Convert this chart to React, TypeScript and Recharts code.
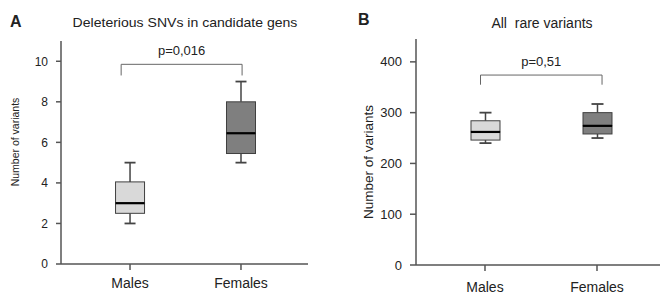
import React from 'react';
import {
  ComposedChart,
  Bar,
  XAxis,
  YAxis,
  ReferenceLine,
} from 'recharts';

const groups = ['Males', 'Females'];

// Panel A: deleterious SNVs in candidate genes
const snvMin = [2, 5];
const snvQ1 = [2.5, 5.45];
const snvMedian = [3, 6.45];
const snvQ3 = [4.05, 8.0];
const snvMax = [5, 9];
const snvTicks = [0, 2, 4, 6, 8, 10];

// Panel B: all rare variants
const rareMin = [240, 250];
const rareQ1 = [246, 258];
const rareMedian = [262, 274];
const rareQ3 = [284, 300];
const rareMax = [300, 317];
const rareTicks = [0, 100, 200, 300, 400];

const FONT = '"Liberation Sans", Arial, sans-serif';
const boxFills = ['#d9d9d9', '#7f7f7f'];

const buildRows = (min: number[], q1: number[], med: number[], q3: number[], max: number[]) =>
  groups.map((g, i) => ({
    x: i,
    name: g,
    base: min[i],
    lowW: q1[i] - min[i],
    lowBox: med[i] - q1[i],
    upBox: q3[i] - med[i],
    upW: max[i] - q3[i],
  }));

const whisker = (cap: number, atTop: boolean) => (props: any) => {
  const { x, y, width, height } = props;
  const cx = x + width / 2;
  const cy = atTop ? y : y + height;
  return (
    <g>
      <line x1={cx} x2={cx} y1={y} y2={y + height} stroke="#444" strokeWidth={1.5} />
      <line x1={cx - cap / 2} x2={cx + cap / 2} y1={cy} y2={cy} stroke="#444" strokeWidth={1.8} />
    </g>
  );
};

const boxPart = (withMedian: boolean) => (props: any) => {
  const { x, y, width, height, payload } = props;
  return (
    <g>
      <rect x={x} y={y} width={width} height={height} fill={boxFills[payload.x]} stroke="#404040" strokeWidth={1} />
      {withMedian && (
        <line x1={x} x2={x + width} y1={y + height} y2={y + height} stroke="#000" strokeWidth={2.2} />
      )}
    </g>
  );
};

const YLabel = ({ px, py, size }: { px: number; py: number; size: number }) => (
  <text
    x={px}
    y={py}
    transform={`rotate(-90 ${px} ${py})`}
    textAnchor="middle"
    dominantBaseline="central"
    fontSize={size}
    fontFamily={FONT}
    fill="#222"
  >
    Number of variants
  </text>
);

interface PanelProps {
  rows: ReturnType<typeof buildRows>;
  width: number;
  margin: { top: number; right: number; left: number; bottom: number };
  xDomain: [number, number];
  yDomain: [number, number];
  yTicks: number[];
  tickFont: number;
  yTickSize: number;
  xTickMargin: number;
  xAxisHeight: number;
  cap: number;
  bracket: { x1: number; x2: number; top: number; foot: number; text: string };
  yLabel: { px: number; py: number; size: number };
  rightFrame: boolean;
}

const BoxPanel: React.FC<PanelProps> = (p) => (
  <ComposedChart width={p.width} height={297} data={p.rows} margin={p.margin}>
    <XAxis
      xAxisId="top"
      orientation="top"
      type="number"
      dataKey="x"
      domain={p.xDomain}
      allowDataOverflow
      tick={false}
      tickLine={false}
      height={0}
      axisLine={{ stroke: '#8c8c8c', strokeWidth: 1.5 }}
    />
    <XAxis
      type="number"
      dataKey="x"
      domain={p.xDomain}
      allowDataOverflow
      ticks={[0, 1]}
      tickFormatter={(v) => groups[v] ?? ''}
      tick={{ fill: '#222', fontSize: 14, fontFamily: FONT }}
      tickSize={6}
      tickMargin={p.xTickMargin}
      height={p.xAxisHeight}
      axisLine={{ stroke: '#555', strokeWidth: 1.5 }}
      tickLine={{ stroke: '#555', strokeWidth: 1.5 }}
    />
    <YAxis
      type="number"
      domain={p.yDomain}
      allowDataOverflow
      ticks={p.yTicks}
      tick={{ fill: '#222', fontSize: p.tickFont, fontFamily: FONT }}
      tickSize={p.yTickSize}
      tickMargin={8}
      width={40}
      axisLine={{ stroke: '#555', strokeWidth: 1.5 }}
      tickLine={{ stroke: '#555', strokeWidth: 1.5 }}
      label={<YLabel px={p.yLabel.px} py={p.yLabel.py} size={p.yLabel.size} />}
    />
    {p.rightFrame && (
      <YAxis
        yAxisId="right"
        orientation="right"
        type="number"
        domain={p.yDomain}
        allowDataOverflow
        tick={false}
        tickLine={false}
        width={0}
        axisLine={{ stroke: '#8c8c8c', strokeWidth: 1.5 }}
      />
    )}
    <Bar dataKey="base" stackId="b" barSize={29} fill="none" shape={() => <g />} isAnimationActive={false} />
    <Bar dataKey="lowW" stackId="b" barSize={29} shape={whisker(p.cap, false)} isAnimationActive={false} />
    <Bar dataKey="lowBox" stackId="b" barSize={29} shape={boxPart(false)} isAnimationActive={false} />
    <Bar dataKey="upBox" stackId="b" barSize={29} shape={boxPart(true)} isAnimationActive={false} />
    <Bar dataKey="upW" stackId="b" barSize={29} shape={whisker(p.cap, true)} isAnimationActive={false} />
    <ReferenceLine
      segment={[{ x: p.bracket.x1, y: p.bracket.top }, { x: p.bracket.x2, y: p.bracket.top }]}
      stroke="#666"
      strokeWidth={1}
      label={{ value: p.bracket.text, position: 'top', offset: 9, fill: '#222', fontSize: 13, fontFamily: FONT }}
    />
    <ReferenceLine
      segment={[{ x: p.bracket.x1, y: p.bracket.foot }, { x: p.bracket.x1, y: p.bracket.top }]}
      stroke="#666"
      strokeWidth={1}
    />
    <ReferenceLine
      segment={[{ x: p.bracket.x2, y: p.bracket.foot }, { x: p.bracket.x2, y: p.bracket.top }]}
      stroke="#666"
      strokeWidth={1}
    />
  </ComposedChart>
);

const textStyle: React.CSSProperties = {
  position: 'absolute',
  fontFamily: FONT,
  color: '#222',
  whiteSpace: 'nowrap',
  lineHeight: 1,
};

export default function App() {
  const rowsA = buildRows(snvMin, snvQ1, snvMedian, snvQ3, snvMax);
  const rowsB = buildRows(rareMin, rareQ1, rareMedian, rareQ3, rareMax);

  return (
    <div style={{ position: 'absolute', left: 0, top: 0, width: 661, height: 297, background: '#fff', overflow: 'hidden' }}>
      <div style={{ position: 'absolute', left: 0, top: 0 }}>
        <BoxPanel
          rows={rowsA}
          width={330}
          margin={{ top: 41, right: 22, left: 21, bottom: 8 }}
          xDomain={[-0.622, 1.604]}
          yDomain={[0, 11]}
          yTicks={snvTicks}
          tickFont={12}
          yTickSize={5}
          xTickMargin={8}
          xAxisHeight={25}
          cap={11}
          bracket={{ x1: -0.08, x2: 1.01, top: 9.85, foot: 9.3, text: 'p=0,016' }}
          yLabel={{ px: 15, py: 142, size: 10.5 }}
          rightFrame
        />
      </div>
      <div style={{ position: 'absolute', left: 330, top: 0 }}>
        <BoxPanel
          rows={rowsB}
          width={331}
          margin={{ top: 39, right: 1, left: 46, bottom: 2 }}
          xDomain={[-0.616, 1.5625]}
          yDomain={[0, 445]}
          yTicks={rareTicks}
          tickFont={13}
          yTickSize={6}
          xTickMargin={11}
          xAxisHeight={30}
          cap={12}
          bracket={{ x1: -0.04, x2: 1.045, top: 374, foot: 355, text: 'p=0,51' }}
          yLabel={{ px: 38, py: 162, size: 13.5 }}
          rightFrame={false}
        />
      </div>
      <div style={{ ...textStyle, left: 10, top: 14, fontSize: 16, fontWeight: 'bold' }}>A</div>
      <div style={{ ...textStyle, left: 185, top: 16, fontSize: 13, transform: 'translateX(-50%) scaleX(1.08)' }}>
        Deleterious SNVs in candidate gens
      </div>
      <div style={{ ...textStyle, left: 358, top: 12, fontSize: 16, fontWeight: 'bold' }}>B</div>
      <div style={{ ...textStyle, left: 542, top: 16, fontSize: 14, transform: 'translateX(-50%)' }}>
        All&nbsp; rare variants
      </div>
    </div>
  );
}
